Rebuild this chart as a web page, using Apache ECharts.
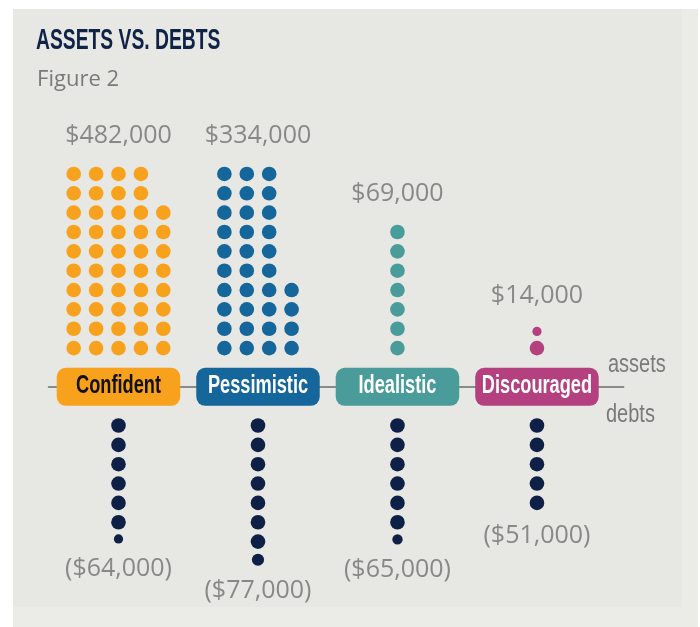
<!DOCTYPE html>
<html>
<head>
<meta charset="utf-8">
<script src="https://cdn.jsdelivr.net/npm/echarts@6/dist/echarts.min.js"></script>
<style>
  html, body {margin: 0; padding: 0; background: #fff;}
  #main {width: 700px; height: 627px;}
</style>
</head>
<body>
<div id="main"></div>
<script>
let groups = ['Confident', 'Pessimistic', 'Idealistic', 'Discouraged']
let assets = [482000, 334000, 69000, 14000]
let debts = [64000, 77000, 65000, 51000]
// dots drawn per group, a fraction is a smaller last dot
let assetDots = [48, 34, 7, 1.4]
let debtDots = [6.4, 7.7, 6.5, 5]
let groupColors = ['#f7a11c', '#15669b', '#4a9c9b', '#b4407f']
let debtColor = '#0e2046'

// no condensed face installed, so squeeze Liberation Sans with scaleX
let sans = '"Liberation Sans", Arial, sans-serif'
let plain = '"Open Sans", "Liberation Sans", sans-serif'

let rowPx = 19.35, dotSize = 14.6, colStep = 0.1606, perCol = 10

// column of dots, filled bottom up (sign 1 = above line, -1 = below)
function buildDots(count, cx, sign, color){
  let full = Math.floor(count + 1e-9)
  let frac = +(count - full).toFixed(2)
  let cols = Math.max(1, Math.ceil(full / perCol))
  let items = [], top = {y: 0, size: dotSize}
  for(let j = 0; j < full; j++){
    let c = Math.floor(j / perCol), r = j % perCol
    let x = cx + (c - (cols - 1) / 2) * colStep
    let y = sign * (2 + r)
    items.push({value: [x, y], symbolSize: dotSize, itemStyle: {color: color}})
    if(Math.abs(y) > Math.abs(top.y)) top = {y: y, size: dotSize}
  }
  if(frac > 0){
    let s = dotSize * Math.sqrt(frac)
    let c = Math.floor((full - 1) / perCol), r = (full - 1) % perCol
    let x = cx + (c - (cols - 1) / 2) * colStep
    let y = sign * (2 + r + (dotSize / 2 + (rowPx - dotSize) + s / 2) / rowPx)
    items.push({value: [x, y], symbolSize: s, itemStyle: {color: color}})
    if(Math.abs(y) > Math.abs(top.y)) top = {y: y, size: s}
  }
  return {items: items, top: top}
}

let money = (v)=>{return '$' + v.toString().replace(/\d(?=(?:\d{3})+\b)/g, '$&,')}

let assetData = [], debtData = [], assetTops = [], debtTops = []
groups.forEach((g, i)=>{
  let a = buildDots(assetDots[i], i, 1, groupColors[i])
  let d = buildDots(debtDots[i], i, -1, debtColor)
  assetData = assetData.concat(a.items)
  debtData = debtData.concat(d.items)
  assetTops.push({value: [i, a.top.y], symbolSize: a.top.size, label: {formatter: money(assets[i])}})
  debtTops.push({value: [i, d.top.y], symbolSize: d.top.size, label: {formatter: '(' + money(debts[i]) + ')'}})
})

//category pill: rounded box + squeezed bold name
function renderPill(params, api){
  let i = params.dataIndex
  let c = api.coord([api.value(0), api.value(1)])
  return {
    type: 'group',
    children: [
      {type: 'rect', shape: {x: c[0] - 61.75, y: c[1] - 19, width: 123.5, height: 38, r: 9}, style: {fill: groupColors[i]}},
      {type: 'text', x: c[0], y: c[1] - 0.5, scaleX: 0.7,
        style: {text: groups[i], font: 'bold 26px ' + sans, fill: i == 0 ? '#111' : '#fff', align: 'center', verticalAlign: 'middle'}}
    ]
  }
}

let option = {
  animation: false,
  graphic: [
    {type: 'rect', z: -10, silent: true, shape: {x: 13, y: 9, width: 685, height: 618}, style: {fill: '#ebebe7'}},
    {type: 'rect', z: -9, silent: true, shape: {x: 13, y: 9, width: 669, height: 598}, style: {fill: '#e7e7e3'}},
    {type: 'text', silent: true, x: 36, y: 41, scaleX: 0.665,
      style: {text: 'ASSETS VS. DEBTS', font: 'bold 29px ' + sans, fill: '#0f2347', align: 'left', verticalAlign: 'middle'}},
    {type: 'text', silent: true, x: 37, y: 80, scaleX: 1.05,
      style: {text: 'Figure 2', font: '21px ' + plain, fill: '#7a7a7a', align: 'left', verticalAlign: 'middle'}},
    {type: 'text', silent: true, x: 608, y: 365, scaleX: 0.8,
      style: {text: 'assets', font: '25px ' + sans, fill: '#7a7a7a', align: 'left', verticalAlign: 'middle'}},
    {type: 'text', silent: true, x: 606, y: 415, scaleX: 0.8,
      style: {text: 'debts', font: '25px ' + sans, fill: '#7a7a7a', align: 'left', verticalAlign: 'middle'}}
  ],
  grid: {left: 48.75, right: 76.55, top: 115.9, bottom: 8},
  xAxis: {
    type: 'value', min: -0.5, max: 3.62,
    axisLine: {onZero: true, lineStyle: {color: '#8a8a8a', width: 2}},
    axisTick: {show: false}, axisLabel: {show: false}, splitLine: {show: false}
  },
  yAxis: {
    type: 'value', min: -12, max: 14,
    axisLine: {show: false}, axisTick: {show: false}, axisLabel: {show: false}, splitLine: {show: false}
  },
  series: [
    {
      type: 'custom', silent: true, clip: false, z: 3,
      renderItem: renderPill,
      data: groups.map((g, i)=>{return [i, 0]})
    },
    {type: 'scatter', silent: true, clip: false, itemStyle: {opacity: 1}, data: assetData},
    {type: 'scatter', silent: true, clip: false, itemStyle: {opacity: 1}, data: debtData},
    {
      type: 'scatter', silent: true, clip: false, data: assetTops,
      itemStyle: {color: 'rgba(0,0,0,0)'},
      label: {show: true, position: 'top', distance: 18, fontFamily: plain, fontSize: 25, color: '#707070'}
    },
    {
      type: 'scatter', silent: true, clip: false, data: debtTops,
      itemStyle: {color: 'rgba(0,0,0,0)'},
      label: {show: true, position: 'bottom', distance: 13, fontFamily: plain, fontSize: 25, color: '#707070'}
    }
  ]
}

let myChart = echarts.init(document.getElementById('main'))
myChart.setOption(option)
</script>
</body>
</html>
